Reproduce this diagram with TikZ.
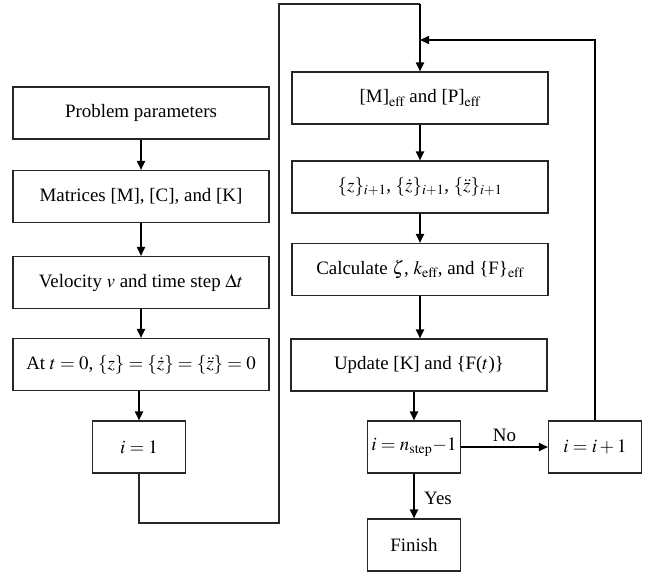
\documentclass[tikz,border=0pt]{standalone}
\usepackage{mathptmx}
\usepackage{fontspec}
\setmainfont{Liberation Serif}
\usepackage[usenames]{xcolor}
\usepackage{tikz}
\usetikzlibrary{arrows.meta}

\begin{document}
\begin{tikzpicture}[x=1bp,y=-1bp,
    block/.style={draw=black!85,line width=1.1bp,minimum height=52bp,inner sep=2bp,
                  font=\fontsize{19}{22}\selectfont},
    wideblock/.style={block,minimum width=256bp},
    smallblock/.style={block,minimum width=93bp},
    answer/.style={font=\fontsize{19}{22}\selectfont}]
\useasboundingbox (0,0) rectangle (648,573);
\begin{scope}[>={Triangle[length=9bp,width=8bp]}]
    \node[wideblock]  (params)   at (141,113)   {Problem parameters};
    \node[wideblock]  (matrices) at (141,196.5) {Matrices [M], [C], and [K]};
    \node[wideblock]  (velocity) at (141,282.5) {Velocity $v$ and time step $\Delta t$};
    \node[wideblock]  (init)     at (141,364.5) {At $t=0$, $\{z\}=\{\dot z\}=\{\ddot z\}=0$};
    \node[smallblock] (ione)     at (139,447)   {$i=1$};

    \node[wideblock]  (meff)   at (420,98)    {[M]$_{\mathrm{eff}}$ and [P]$_{\mathrm{eff}}$};
    \node[wideblock]  (zvec)   at (420,187)   {$\{z\}_{i+1}$, $\{\dot z\}_{i+1}$, $\{\ddot z\}_{i+1}$};
    \node[wideblock]  (calc)   at (420,269.5) {Calculate $\zeta$, $k_{\mathrm{eff}}$, and \{F\}$_{\mathrm{eff}}$};
    \node[wideblock]  (update) at (419,365)   {Update [K] and \{F($t$)\}};
    \node[smallblock] (check)  at (414,447)   {$i=n_{\mathrm{step}}{-}1$};
    \node[smallblock] (inc)    at (595,447)   {$i=i+1$};
    \node[smallblock] (finish) at (414,545)   {Finish};

    \draw[line width=1.8bp,->] (params) -- (matrices);
    \draw[line width=1.8bp,->] (matrices) -- (velocity);
    \draw[line width=1.8bp,->] (velocity) -- (init);
    \draw[line width=1.8bp,->] (init.south -| ione) -- (ione.north);

    \coordinate (lowturn) at (279,523);
    \coordinate (topturn) at (279,4);
    \coordinate (topend)  at (meff.north |- topturn);
    \draw[black!85,line width=1.2bp] (ione.south) |- (lowturn) -- (topturn) -- (topend);
    \draw[line width=1.8bp,->] (topend) -- (meff.north);

    \draw[line width=1.8bp,->] (meff) -- (zvec);
    \draw[line width=1.8bp,->] (zvec) -- (calc);
    \draw[line width=1.8bp,->] (calc.south) -- (calc.south |- update.north);
    \draw[line width=1.8bp,->] (update.south -| check) -- (check.north);

    \draw[line width=1.8bp,->] (check) -- (inc) node[answer,midway,above,yshift=1bp]{No};
    \draw[line width=1.8bp,->] (check) -- (finish) node[answer,midway,right,xshift=6bp,yshift=-2bp]{Yes};

    \coordinate (rejoin) at (meff.north |- 0,40);
    \draw[line width=1.6bp,->] (inc.north) |- (rejoin);
\end{scope}
\end{tikzpicture}
\end{document}
